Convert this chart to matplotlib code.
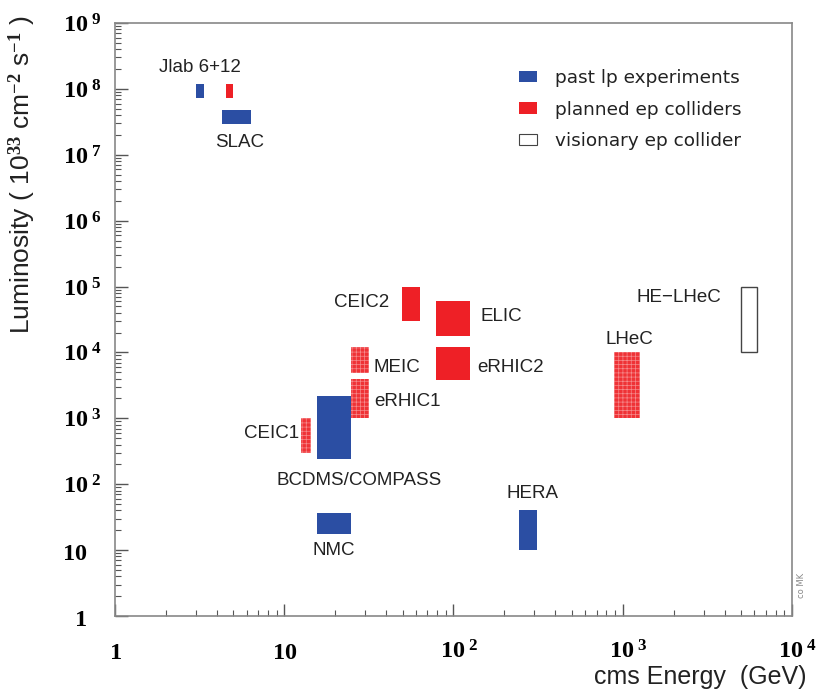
import numpy as np
import matplotlib
matplotlib.use('Agg')
import matplotlib.pyplot as plt
import matplotlib.transforms as mtrans
from matplotlib.patches import Rectangle, Patch
from matplotlib.ticker import LogLocator, FixedLocator, FuncFormatter

# experiments: name, E_min, E_max, L_min, L_max (10^33 cm^-2 s^-1), kind
names = ['Jlab6', 'Jlab12', 'SLAC', 'CEIC1', 'BCDMS/COMPASS', 'NMC', 'HERA',
         'MEIC', 'eRHIC1', 'CEIC2', 'ELIC', 'eRHIC2', 'LHeC', 'HE-LHeC']
e_lo = [3.0, 4.5, 4.3, 12.6, 15.7, 15.7, 244, 24.7, 24.7, 49.3, 78.4, 78.4, 886, 5030]
e_hi = [3.37, 5.0, 6.4, 14.3, 24.9, 24.9, 312, 31.5, 31.5, 63.3, 125, 125, 1262, 6220]
l_lo = [7.2e7, 7.2e7, 2.9e7, 300, 240, 17.5, 10, 4.8e3, 1e3, 3e4, 1.8e4, 3.8e3, 1e3, 1e4]
l_hi = [1.18e8, 1.18e8, 4.75e7, 1e3, 2.2e3, 36.7, 40, 1.2e4, 3.9e3, 1e5, 6e4, 1.2e4, 1e4, 1e5]
kind = ['past', 'planned', 'past', 'stip', 'past', 'past', 'past',
        'stip', 'stip', 'planned', 'planned', 'planned', 'stip', 'vision']

# text labels and where they sit
lab_text = ['Jlab 6+12', 'SLAC', 'CEIC1', 'BCDMS/COMPASS', 'NMC', 'HERA', 'MEIC',
            'eRHIC1', 'CEIC2', 'ELIC', 'eRHIC2', 'LHeC', 'HE\u2212LHeC']
lab_x = [3.16, 5.47, 8.46, 27.8, 19.7, 292, 46.6, 53.8, 28.6, 192, 218, 1090, 2140]
lab_y = [2.1e8, 1.54e7, 586, 112, 9.76, 72.3, 5.87e3, 1.77e3, 5.8e4, 3.5e4, 5.87e3, 1.56e4, 6.89e4]

legend_text = ['past lp experiments', 'planned ep colliders', 'visionary ep collider']

blue = '#2b4ea3'
red = '#ee2026'

plt.rcParams['mathtext.fontset'] = 'custom'
plt.rcParams['mathtext.rm'] = 'Liberation Serif:bold'
plt.rcParams['mathtext.bf'] = 'Liberation Serif:bold'
plt.rcParams['mathtext.it'] = 'Liberation Serif:bold:italic'
plt.rcParams['hatch.linewidth'] = 0.5

fig = plt.figure(figsize=(8.17, 6.89), dpi=100)
ax = fig.add_axes([115/817, 73/689, 677/817, 593/689])
ax.set_xscale('log')
ax.set_yscale('log')
ax.set_xlim(1, 1e4)
ax.set_ylim(1, 1e9)

for i in range(len(names)):
    w = e_hi[i] - e_lo[i]
    h = l_hi[i] - l_lo[i]
    if kind[i] == 'past':
        r = Rectangle((e_lo[i], l_lo[i]), w, h, facecolor=blue, edgecolor='none')
    elif kind[i] == 'planned':
        r = Rectangle((e_lo[i], l_lo[i]), w, h, facecolor=red, edgecolor='none')
    elif kind[i] == 'stip':
        r = Rectangle((e_lo[i], l_lo[i]), w, h, facecolor='#ef3236',
                      edgecolor='#f68a8c', hatch='++++', linewidth=0)
    else:
        r = Rectangle((e_lo[i], l_lo[i]), w, h, facecolor='white',
                      edgecolor='#444444', linewidth=1.0)
    ax.add_patch(r)

for t, x, y in zip(lab_text, lab_x, lab_y):
    ax.text(x, y, t, ha='center', va='center', fontsize=13.5,
            family='Liberation Sans', color='#222222')

handles = [Patch(facecolor=blue, edgecolor='none'),
           Patch(facecolor=red, edgecolor='none'),
           Patch(facecolor='white', edgecolor='#444444', linewidth=0.8)]
leg = ax.legend(handles, legend_text, loc='upper left', bbox_to_anchor=(0.572, 0.951),
                frameon=False, prop={'family': 'DejaVu Sans', 'size': 13.3},
                handlelength=1.0, handleheight=0.55, handletextpad=0.95,
                labelspacing=0.75)
for txt in leg.get_texts():
    txt.set_color('#222222')

def fmt(v, pos):
    n = int(round(np.log10(v)))
    if n == 0:
        return '$1$'
    if n == 1:
        return '$10$'
    return '$10^{\\ %d}$' % n

ax.xaxis.set_major_locator(FixedLocator([1, 10, 100, 1000, 1e4]))
ax.yaxis.set_major_locator(FixedLocator([10.0**k for k in range(10)]))
ax.xaxis.set_minor_locator(LogLocator(base=10, subs=np.arange(2, 10), numticks=20))
ax.yaxis.set_minor_locator(LogLocator(base=10, subs=np.arange(2, 10), numticks=20))
ax.xaxis.set_major_formatter(FuncFormatter(fmt))
ax.yaxis.set_major_formatter(FuncFormatter(fmt))
ax.xaxis.set_minor_formatter(FuncFormatter(lambda v, p: ''))
ax.yaxis.set_minor_formatter(FuncFormatter(lambda v, p: ''))
ax.tick_params(which='both', direction='in', top=False, right=False, color='#555555')
ax.tick_params(which='major', length=9, width=1.0, labelsize=17.5)
ax.tick_params(which='minor', length=4.5, width=0.8)
ax.tick_params(axis='y', which='major', pad=9.4)
ax.tick_params(axis='x', which='major', pad=17)
for s in ax.spines.values():
    s.set_color('#888888')
    s.set_linewidth(1.2)

# ROOT-style label placement: plain 1 and 10 sit left of the exponent column,
# and on x the "10" is centred on the tick with the exponent trailing
ylabs = ax.get_yticklabels()
for lab in ylabs[:2]:
    lab.set_transform(lab.get_transform() +
                      mtrans.ScaledTranslation(-15/100, 0, fig.dpi_scale_trans))
xlabs = ax.get_xticklabels()
for lab in xlabs[2:]:
    lab.set_transform(lab.get_transform() +
                      mtrans.ScaledTranslation(6/100, 0, fig.dpi_scale_trans))

fig.text(806/817, 1 - 677/689, 'cms Energy  (GeV)', ha='right', va='center',
         fontsize=18, family='Liberation Sans', color='#222222')
fig.text(0.027, 1 - 175/689, 'Luminosity ( 10$^{33}$ cm$^{-2}$ s$^{-1}$ )',
         rotation=90, ha='center', va='center', fontsize=19,
         family='Liberation Sans', color='#222222')
fig.text(801/817, 1 - 585/689, 'co MK', rotation=90, ha='center', va='center',
         fontsize=6, family='DejaVu Sans', color='#888888')

fig.savefig('out.png', dpi=100)
